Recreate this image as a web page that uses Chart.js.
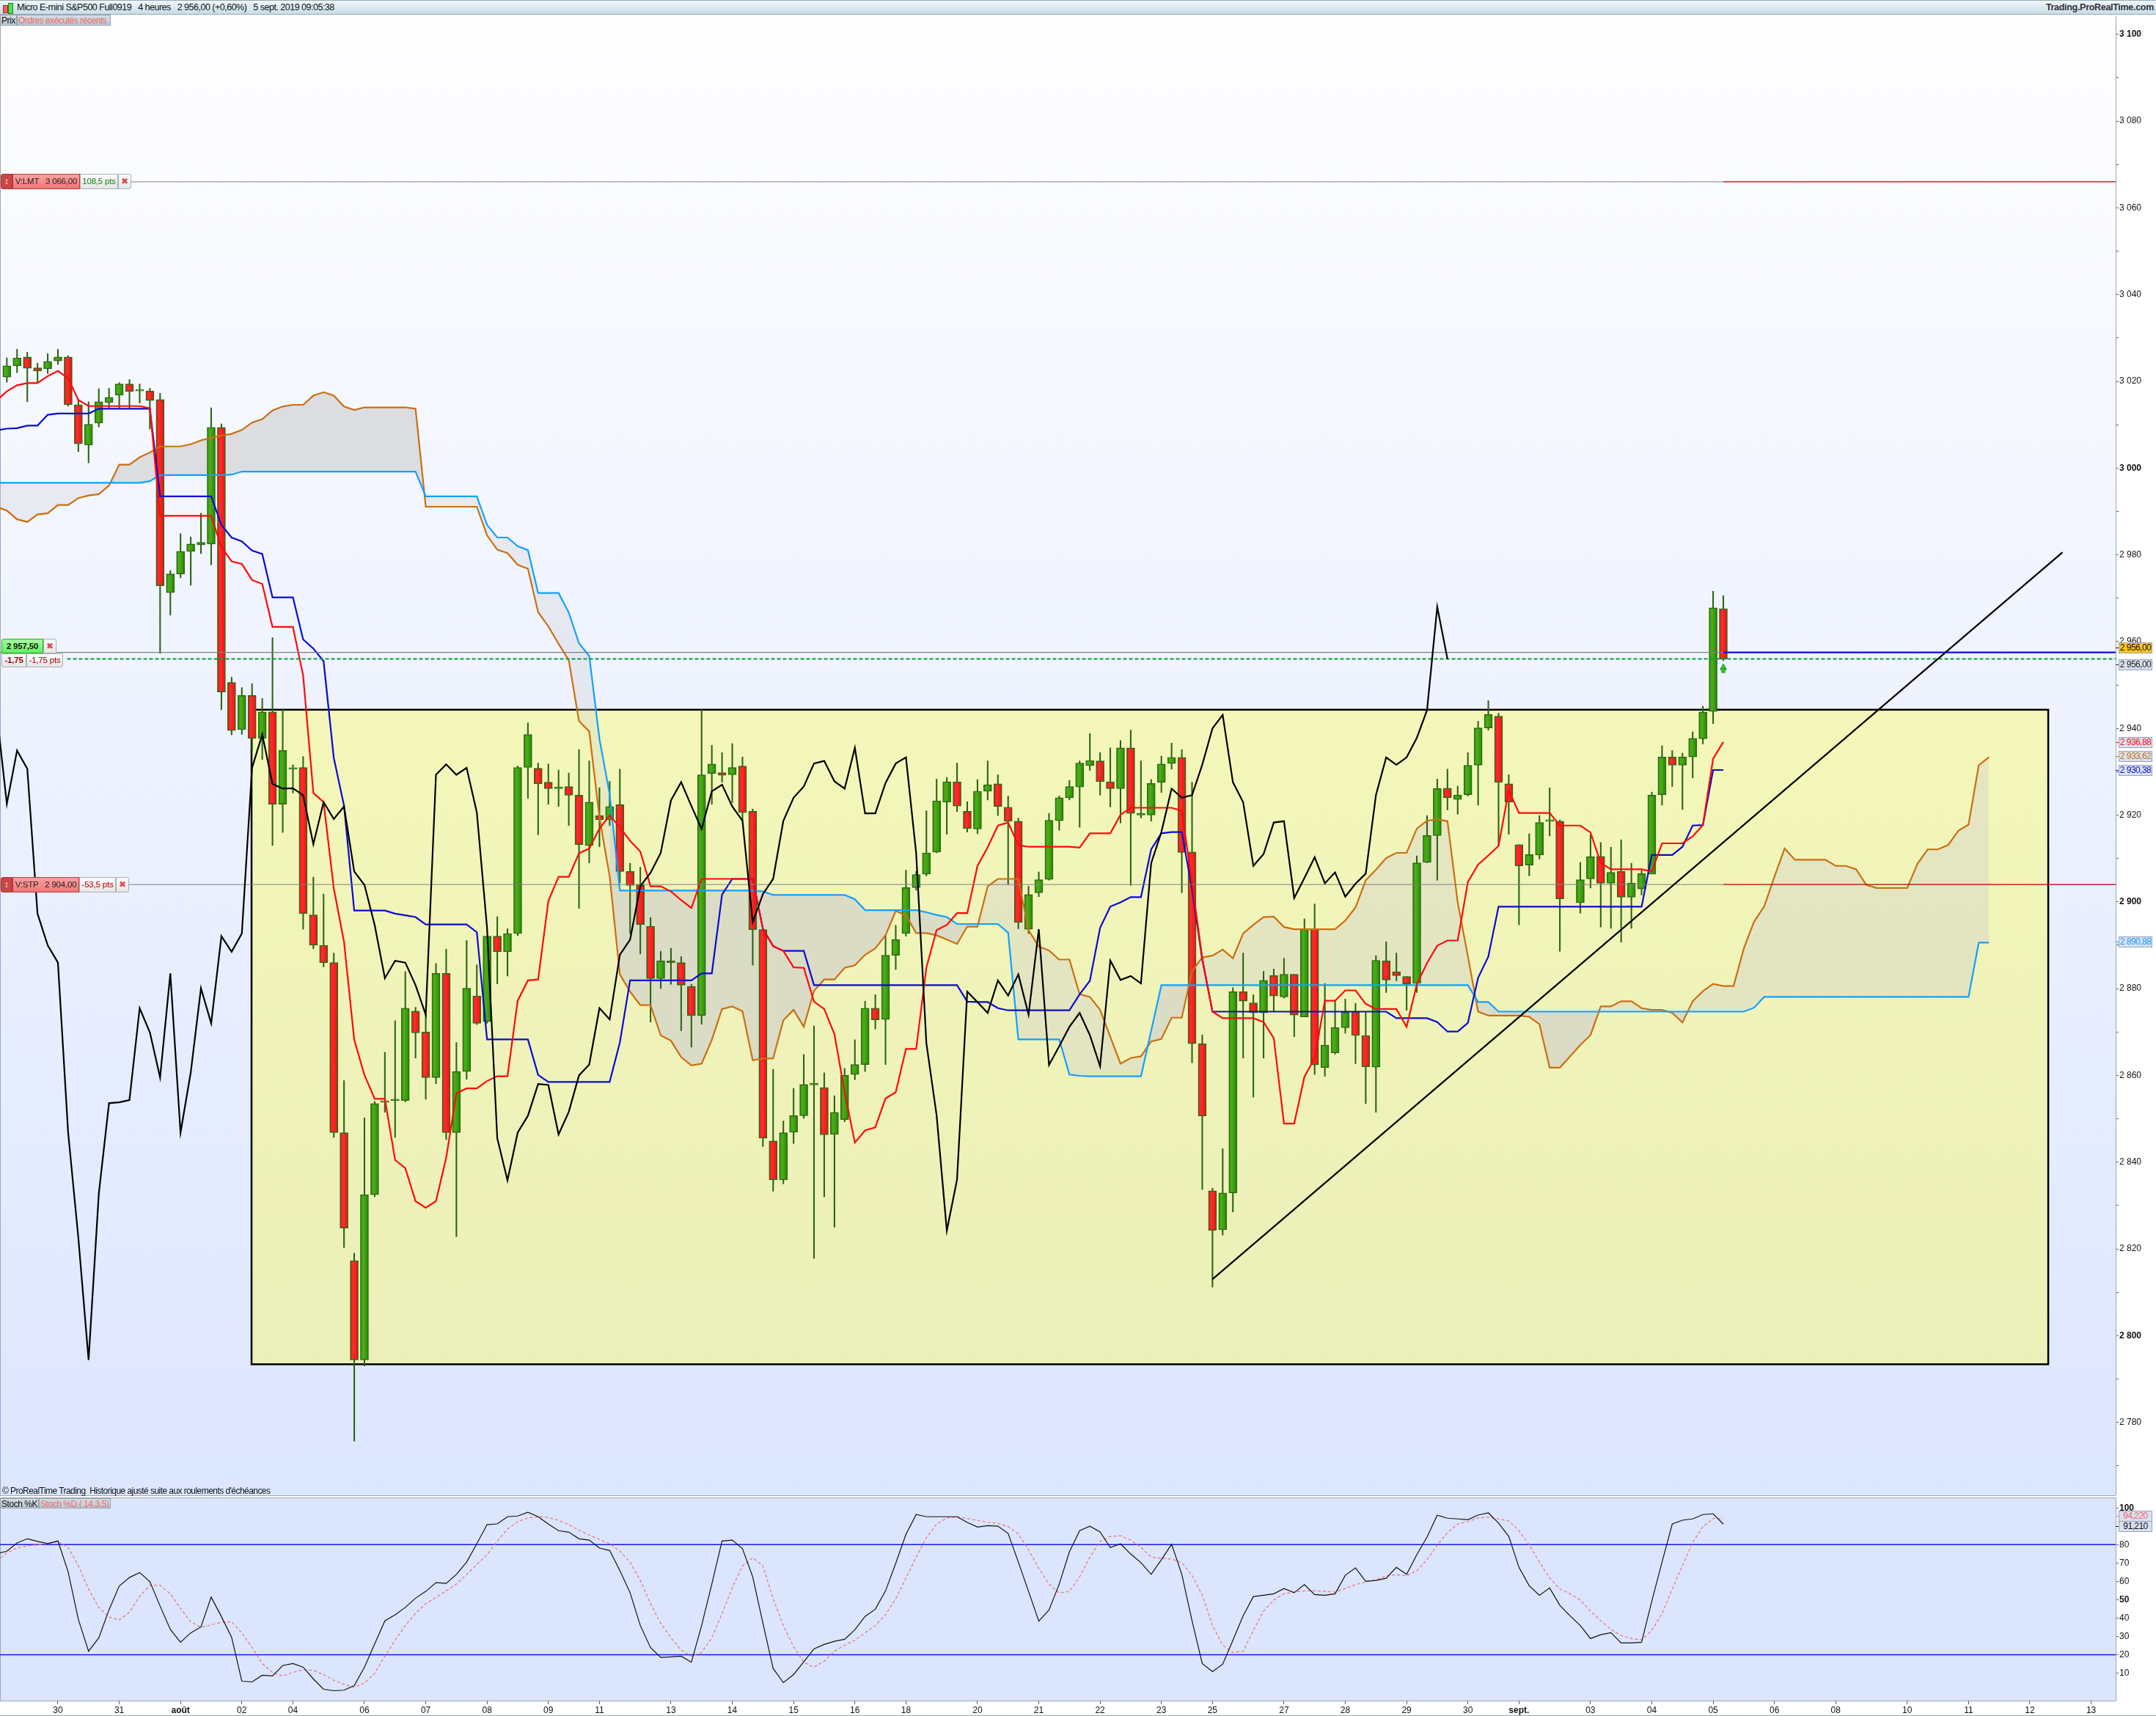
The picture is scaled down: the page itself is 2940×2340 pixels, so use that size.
<!DOCTYPE html>
<html>
<head>
<meta charset="utf-8">
<title>Micro E-mini S&amp;P500</title>
<script src="https://cdn.jsdelivr.net/npm/chart.js@4/dist/chart.umd.min.js"></script>
<style>
html,body{margin:0;padding:0;background:#fff;width:2940px;height:2340px;overflow:hidden;font-family:"Liberation Sans",Arial,sans-serif;color:#111}
div,canvas{position:absolute}
#header{left:0;top:0;width:2940px;height:20px;background:linear-gradient(#eef8fc,#c8dde8);border-top:1px solid #9aa8b4;border-bottom:1px solid #9aa8b4;box-sizing:border-box;font-size:13.5px;line-height:19px;white-space:pre}
#mainBg{left:0;top:20px;width:2885px;height:2019px;background:linear-gradient(#fefeff,#dce6ff);border-left:1px solid #9aa8b4;box-sizing:border-box}
#stochBg{left:0;top:2042px;width:2885px;height:277px;background:#dbe5fe;border-left:1px solid #9aa8b4;border-top:1px solid #9aa8b4;box-sizing:border-box}
.rule{left:0;width:2885px;height:1px;background:#9aa8b4}
.leg{height:14px;line-height:14px;font-size:12px;letter-spacing:-0.45px;background:linear-gradient(#d6dee4,#b9c7d0);border:1px solid #93a3b0;box-sizing:border-box;white-space:pre;padding-left:1px;overflow:hidden}
.tag{box-sizing:border-box;font-size:11.5px;letter-spacing:-0.2px;text-align:center;white-space:pre;border:1px solid #a8b0b8;background:linear-gradient(#fbfbfb,#e6e6e6)}
.val{left:2889px;width:46px;height:15px;line-height:13px;font-size:12px;letter-spacing:-0.55px;box-sizing:border-box;border:1px solid #93a3b8;background:#d9e1f0;text-align:center;white-space:pre}
.mark{left:2885px;width:4px;height:1px}
</style>
</head>
<body>
<div id="mainBg"></div>
<div id="stochBg"></div>
<div class="rule" style="top:2039px"></div>
<div class="rule" style="top:2319px"></div>
<div class="rule" style="top:2339px;width:2940px"></div>
<div class="rule" style="top:2042px"></div>
<canvas id="priceChart" width="2940" height="2017" style="left:0;top:22px"></canvas>
<canvas id="stochChart" width="2940" height="298" style="left:0;top:2042px"></canvas>
<div id="header"></div>
<div id="overlay" style="left:0;top:0;width:2940px;height:2340px"></div>

<script>
// x axis: one step = one 4 hour bar, bar 0 is the first candle on the left
const xMin = -0.67
const xMax = 206.4

const candleOpen = [
  3021.0,3023.6,3025.6,3023.1,3022.9,3024.7,3025.6,3014.6,3005.3,3010.4,
  3015.1,3016.8,3019.4,3017.8,3017.8,3015.8,2971.3,2975.6,2980.8,2982.3,
  2982.5,3009.4,2950.6,2939.7,2947.6,2937.7,2943.8,2922.5,2930.6,2931.0,
  2897.0,2890.0,2886.0,2846.8,2817.3,2794.4,2832.5,2853.8,2854.2,2854.2,
  2874.8,2870.0,2859.5,2883.5,2846.8,2860.9,2878.3,2872.4,2892.1,2888.5,
  2892.7,2931.0,2930.8,2927.6,2926.1,2926.6,2924.6,2913.0,2919.9,2918.9,
  2922.4,2907.0,2904.0,2894.4,2882.3,2886.4,2886.0,2880.5,2873.8,2929.6,
  2929.8,2929.3,2931.3,2920.9,2893.6,2844.9,2835.9,2846.9,2850.7,2857.8,
  2857.2,2846.4,2849.8,2860.2,2862.5,2875.5,2872.9,2887.7,2892.7,2903.3,
  2906.4,2911.5,2923.0,2927.7,2920.9,2916.8,2925.5,2927.2,2921.8,2918.6,
  2893.7,2902.1,2905.2,2918.7,2924.0,2926.5,2931.4,2932.5,2927.7,2926.1,
  2935.5,2920.0,2920.0,2927.6,2931.9,2933.3,2911.5,2867.3,2833.4,2824.4,
  2832.9,2879.3,2876.7,2874.4,2883.0,2878.1,2883.3,2873.5,2893.8,2861.8,
  2865.2,2871.0,2874.6,2869.2,2861.9,2886.4,2883.9,2882.8,2881.2,2909.1,
  2915.3,2926.2,2923.6,2924.7,2931.5,2940.1,2942.8,2927.2,2913.2,2908.5,
  2910.8,2918.6,2918.6,null,2899.8,2905.3,2910.5,2904.3,2907.0,2901.1,
  2903.0,2906.4,2924.7,2933.4,2931.5,2933.4,2937.6,2943.9,2967.6
]
const candleClose = [
  3023.6,3025.4,3023.0,3022.4,3024.6,3025.6,3014.6,3005.6,3010.1,3015.3,
  3016.3,3019.4,3017.7,3017.8,3015.6,2972.9,2975.6,2980.8,2982.5,2982.9,
  3009.4,2948.4,2939.5,2947.6,2937.7,2943.8,2922.5,2934.9,2930.6,2897.3,
  2890.0,2886.0,2846.8,2824.8,2794.4,2832.5,2853.5,2853.8,2854.2,2875.5,
  2869.8,2859.5,2883.5,2846.8,2860.9,2880.1,2872.0,2892.1,2888.5,2892.7,
  2931.0,2938.6,2927.2,2926.1,2926.1,2924.6,2913.2,2923.0,2918.9,2922.0,
  2907.0,2903.8,2894.8,2882.3,2886.4,2886.0,2880.8,2873.8,2929.3,2931.8,
  2929.2,2931.0,2920.6,2893.6,2845.5,2835.9,2846.8,2850.7,2857.9,2857.8,
  2846.3,2851.5,2860.0,2862.5,2875.5,2872.8,2887.7,2891.3,2903.3,2906.3,
  2911.3,2923.3,2927.7,2922.1,2916.9,2925.5,2927.0,2922.0,2918.6,2895.3,
  2901.7,2905.1,2918.8,2924.0,2926.6,2932.0,2932.6,2927.7,2926.1,2935.5,
  2920.4,2920.4,2927.3,2931.8,2933.3,2911.4,2867.3,2850.6,2824.3,2832.9,
  2879.3,2877.1,2874.4,2881.9,2878.3,2883.3,2873.9,2893.8,2862.4,2867.0,
  2871.0,2874.6,2869.2,2862.0,2886.5,2882.0,2883.0,2881.1,2909.0,2915.3,
  2926.1,2924.0,2924.6,2931.5,2940.1,2943.2,2927.6,2923.0,2908.3,2910.9,
  2918.3,2918.6,2900.7,null,2905.1,2910.4,2904.3,2906.8,2901.1,2904.3,
  2906.5,2924.6,2933.4,2931.5,2933.4,2937.7,2943.8,2967.8,2956.0
]
const candleHigh = [
  3025.4,3027.4,3026.7,3024.2,3026.4,3027.4,3025.9,3015.8,3015.3,3018.3,
  3018.4,3019.7,3020.4,3019.4,3018.4,3017.2,2976.4,2984.9,2984.1,2989.6,
  3013.9,3010.2,2951.8,2949.4,2950.3,2946.9,2960.9,2944.5,2931.6,2933.5,
  2905.7,2901.8,2888.2,2858.8,2819.0,2850.2,2854.0,2865.3,2872.6,2883.9,
  2875.7,2874.0,2885.8,2889.1,2867.6,2891.1,2885.5,2892.1,2896.6,2893.8,
  2931.3,2941.3,2932.0,2931.8,2930.4,2929.7,2935.1,2932.5,2926.3,2927.8,
  2930.6,2908.9,2908.0,2896.4,2888.6,2889.3,2887.4,2881.0,2944.2,2936.1,
  2934.4,2936.5,2933.4,2921.4,2893.6,2861.4,2849.5,2857.0,2864.8,2871.4,
  2860.6,2855.3,2861.6,2868.2,2877.1,2878.6,2892.3,2894.6,2907.3,2907.0,
  2921.0,2928.3,2928.7,2932.0,2923.1,2928.2,2932.5,2929.3,2924.4,2919.3,
  2903.6,2906.9,2920.4,2924.4,2928.0,2932.5,2938.8,2934.4,2935.5,2937.2,
  2939.6,2932.5,2928.2,2933.6,2936.6,2935.1,2927.6,2869.3,2834.0,2843.1,
  2880.2,2888.2,2878.6,2884.0,2884.5,2887.0,2883.3,2896.1,2899.5,2881.2,
  2877.2,2877.6,2876.6,2874.6,2887.6,2890.8,2888.2,2882.8,2910.6,2919.9,
  2928.3,2930.6,2926.7,2934.4,2941.6,2946.4,2943.5,2929.3,2913.2,2915.7,
  2919.9,2926.3,2918.9,null,2909.1,2915.4,2913.7,2912.6,2914.3,2908.9,
  2907.3,2925.3,2936.0,2934.9,2934.3,2939.2,2945.1,2971.6,2970.6
]
const candleLow = [
  3019.8,3022.0,3015.3,3019.8,3021.8,3023.9,3014.3,3003.8,3001.2,3009.5,
  3013.7,3013.7,3013.7,3015.0,3009.0,2957.3,2966.1,2974.7,2973.0,2980.3,
  2977.7,2944.3,2938.5,2938.6,2935.0,2932.8,2913.0,2916.0,2925.1,2893.7,
  2889.2,2885.0,2845.7,2820.3,2775.7,2793.0,2832.0,2851.5,2845.7,2853.9,
  2864.0,2854.5,2858.1,2845.2,2822.8,2859.1,2871.7,2872.0,2881.1,2882.9,
  2892.2,2923.9,2915.5,2922.5,2922.0,2917.6,2898.5,2909.0,2912.7,2917.6,
  2904.4,2892.7,2888.0,2872.3,2880.0,2881.0,2870.3,2866.5,2871.8,2922.5,
  2927.6,2922.9,2918.7,2885.4,2843.6,2833.3,2835.0,2844.3,2850.1,2817.8,
  2832.0,2825.0,2849.3,2859.0,2860.9,2870.7,2862.5,2884.4,2892.1,2902.7,
  2906.0,2911.3,2915.6,2920.8,2916.1,2915.7,2923.5,2919.9,2904.0,2893.8,
  2892.7,2901.2,2905.0,2916.5,2923.5,2917.2,2930.3,2924.6,2921.9,2918.2,
  2903.8,2919.3,2918.6,2925.2,2930.6,2902.1,2862.9,2833.7,2811.2,2823.2,
  2828.5,2864.0,2855.0,2864.0,2874.8,2877.8,2868.9,2873.5,2860.2,2859.8,
  2864.9,2869.7,2862.7,2853.5,2851.5,2879.1,2881.8,2875.0,2879.1,2909.0,
  2905.0,2921.2,2920.2,2924.4,2922.3,2939.6,2912.9,2915.6,2894.7,2906.0,
  2909.9,2915.2,2888.6,null,2897.4,2903.2,2894.2,2893.9,2890.7,2893.9,
  2901.6,2906.4,2922.3,2926.6,2921.3,2928.6,2936.4,2941.1,2955.6
]

// ichimoku lines, the first value of each list is one bar left of bar 0
const tenkan = [
  3015.6,
  3017.7,3019.1,3019.6,3019.6,3021.2,3022.4,3020.7,3015.7,3014.3,3014.3,
  3014.3,3014.3,3014.3,3014.3,3013.8,2989.0,2989.0,2989.0,2989.0,2989.0,
  2989.0,2981.8,2978.5,2977.9,2974.2,2973.3,2963.4,2963.4,2963.4,2952.2,
  2925.1,2923.0,2903.1,2890.8,2868.2,2860.1,2854.6,2854.6,2840.5,2838.6,
  2831.0,2829.5,2831.0,2841.0,2855.9,2857.0,2857.0,2858.7,2859.8,2859.8,
  2877.2,2881.9,2882.1,2900.2,2905.8,2905.8,2911.2,2912.3,2916.9,2919.9,
  2917.2,2914.1,2911.6,2903.6,2903.6,2902.4,2900.4,2898.6,2905.3,2905.3,
  2905.3,2905.3,2905.3,2905.3,2893.8,2889.8,2888.7,2884.9,2884.8,2877.0,
  2875.3,2869.5,2856.1,2844.5,2847.3,2848.0,2854.7,2856.1,2866.1,2866.1,
  2884.9,2893.5,2894.7,2897.4,2897.4,2908.3,2912.6,2917.6,2918.3,2913.1,
  2912.7,2912.7,2912.7,2912.7,2912.7,2912.5,2915.8,2915.8,2915.8,2920.1,
  2921.7,2921.7,2921.7,2921.7,2921.7,2921.0,2904.4,2887.0,2874.7,2873.2,
  2873.2,2873.2,2873.2,2872.3,2868.6,2848.9,2848.9,2859.7,2864.0,2877.2,
  2877.2,2879.6,2879.6,2876.5,2875.3,2875.3,2875.3,2871.2,2881.0,2885.9,
  2889.9,2891.1,2891.1,2904.6,2908.6,2910.7,2912.9,2925.7,2920.5,2920.5,
  2920.5,2920.5,2917.6,2917.6,2917.6,2916.0,2909.0,2907.5,2907.5,2907.5,
  2907.5,2907.0,2913.5,2913.5,2913.5,2915.1,2917.7,2933.0,2936.9
]
const kijun = [
  3008.7,
  3009.1,3009.2,3009.8,3009.8,3012.3,3012.6,3012.6,3012.6,3012.6,3013.7,
  3013.7,3013.7,3013.7,3013.7,3013.7,2993.5,2993.5,2993.5,2993.5,2993.5,
  2993.5,2986.9,2984.0,2983.1,2981.0,2980.2,2970.2,2970.2,2970.2,2960.5,
  2958.4,2955.5,2933.2,2922.2,2898.0,2898.0,2898.0,2898.0,2897.3,2896.9,
  2896.5,2894.8,2894.8,2894.8,2894.8,2894.8,2893.0,2868.3,2868.3,2868.3,
  2868.3,2868.3,2860.1,2858.5,2858.5,2858.5,2858.5,2858.5,2858.5,2858.5,
  2867.6,2881.9,2881.9,2881.9,2881.9,2881.9,2881.9,2881.9,2883.5,2883.5,
  2901.7,2905.3,2905.3,2905.3,2893.8,2889.8,2888.7,2888.7,2888.7,2880.8,
  2880.8,2880.8,2880.8,2880.8,2880.8,2880.8,2880.8,2880.8,2880.8,2880.8,
  2880.8,2880.8,2880.8,2880.8,2877.0,2876.9,2876.9,2875.5,2875.0,2875.0,
  2875.0,2875.0,2875.0,2875.0,2875.0,2878.7,2881.8,2894.0,2898.9,2899.9,
  2901.1,2901.1,2912.1,2915.8,2916.1,2916.1,2902.9,2886.7,2874.7,2874.7,
  2874.7,2874.7,2874.7,2874.7,2874.7,2874.7,2874.7,2874.7,2874.7,2874.7,
  2874.7,2874.7,2874.7,2874.7,2874.7,2874.7,2873.2,2873.2,2873.2,2873.2,
  2872.3,2870.1,2870.1,2872.1,2882.5,2887.4,2898.9,2898.9,2898.9,2898.9,
  2898.9,2898.9,2898.9,2898.9,2898.9,2898.9,2898.9,2898.9,2898.9,2898.9,
  2898.9,2910.8,2910.8,2910.8,2912.7,2917.6,2917.7,2930.4,2930.4
]
const senkouA = [
  2991.1,
  2990.2,2988.2,2987.6,2989.3,2989.6,2991.5,2991.5,2993.1,2993.7,2994.0,
  2996.0,3000.8,3000.8,3002.5,3003.6,3005.0,3005.0,3005.0,3005.5,3006.4,
  3007.0,3007.5,3007.9,3008.8,3010.5,3011.3,3013.3,3014.2,3014.6,3014.6,
  3016.7,3017.5,3016.7,3014.2,3013.4,3014.0,3014.0,3014.0,3014.0,3014.0,
  3013.7,2991.1,2991.1,2991.1,2991.1,2991.1,2991.1,2984.5,2981.2,2980.4,
  2977.7,2976.8,2966.8,2963.5,2959.5,2955.7,2941.7,2939.3,2919.5,2905.9,
  2883.3,2879.3,2876.2,2876.2,2869.2,2868.0,2864.2,2862.3,2862.7,2868.2,
  2875.3,2875.9,2874.8,2863.5,2863.9,2863.9,2872.7,2875.1,2871.2,2879.5,
  2882.1,2882.1,2884.8,2885.4,2887.8,2889.3,2892.3,2897.9,2896.9,2892.8,
  2892.8,2892.3,2891.3,2890.3,2894.3,2894.3,2903.6,2905.3,2905.3,2905.3,
  2893.5,2889.7,2888.8,2886.7,2886.7,2878.7,2878.1,2875.1,2868.9,2862.7,
  2864.0,2864.4,2867.8,2868.4,2873.3,2873.3,2884.0,2887.2,2887.6,2889.0,
  2887.0,2892.7,2894.7,2896.5,2896.6,2894.2,2893.7,2893.7,2893.7,2893.7,
  2893.7,2895.7,2898.7,2905.0,2907.4,2910.1,2911.3,2911.3,2916.9,2918.7,
  2919.0,2918.6,2899.9,2887.4,2874.7,2873.8,2873.8,2873.8,2873.8,2873.5,
  2871.8,2861.8,2861.8,2864.4,2867.0,2869.3,2875.9,2875.9,2877.1,2877.1,
  2875.5,2875.1,2875.1,2874.4,2872.2,2877.1,2879.4,2881.1,2880.6,2880.6,
  2889.2,2895.4,2899.0,2905.8,2912.3,2909.7,2909.7,2909.7,2909.7,2908.3,
  2908.3,2907.5,2903.9,2903.2,2903.2,2903.2,2903.2,2908.8,2912.1,2912.1,
  2913.1,2916.4,2917.8,2931.5,2933.4
]
const senkouB = [
  2996.6,
  2996.6,2996.6,2996.6,2996.6,2996.6,2996.6,2996.6,2996.6,2996.6,2996.6,
  2996.6,2996.6,2996.6,2996.6,2997.0,2998.4,2998.4,2998.4,2998.4,2998.4,
  2998.4,2998.4,2998.5,2999.2,2999.2,2999.2,2999.2,2999.2,2999.2,2999.2,
  2999.2,2999.2,2999.2,2999.2,2999.2,2999.2,2999.2,2999.2,2999.2,2999.2,
  2999.2,2993.5,2993.5,2993.5,2993.5,2993.5,2993.5,2986.9,2984.0,2984.0,
  2982.0,2981.1,2971.2,2971.2,2971.2,2966.7,2959.6,2956.7,2937.6,2924.8,
  2902.6,2902.6,2902.6,2902.6,2902.6,2902.6,2902.6,2902.6,2902.6,2902.6,
  2902.6,2902.6,2902.6,2902.6,2902.4,2901.6,2901.6,2901.6,2901.6,2901.6,
  2901.6,2901.6,2901.6,2900.6,2898.1,2898.1,2898.1,2898.1,2898.1,2898.1,
  2897.6,2897.0,2896.5,2894.9,2894.9,2894.9,2894.9,2894.9,2892.9,2868.3,
  2868.3,2868.3,2868.3,2868.3,2860.2,2859.9,2859.8,2859.8,2859.8,2859.8,
  2859.8,2859.8,2870.3,2880.8,2880.8,2880.8,2880.8,2880.8,2880.8,2880.8,
  2880.8,2880.8,2880.8,2880.8,2880.8,2880.8,2880.8,2880.8,2880.8,2880.8,
  2880.8,2880.8,2880.8,2880.8,2880.8,2880.8,2880.8,2880.8,2880.8,2880.8,
  2880.8,2880.8,2880.8,2880.8,2876.9,2876.9,2874.7,2874.7,2874.7,2874.7,
  2874.7,2874.7,2874.7,2874.7,2874.7,2874.7,2874.7,2874.7,2874.7,2874.7,
  2874.7,2874.7,2874.7,2874.7,2874.7,2874.7,2874.7,2874.7,2874.7,2874.7,
  2874.7,2875.6,2878.1,2878.1,2878.1,2878.1,2878.1,2878.1,2878.1,2878.1,
  2878.1,2878.1,2878.1,2878.1,2878.1,2878.1,2878.1,2878.1,2878.1,2878.1,
  2878.1,2878.1,2878.1,2890.6,2890.6
]
const chikou = [
  2943.8,
  2922.6,2934.9,2930.7,2897.3,2890.0,2886.0,2846.8,2822.5,2794.4,2832.7,
  2853.6,2853.8,2854.3,2875.5,2869.9,2859.5,2883.5,2846.8,2860.7,2880.1,
  2872.0,2892.1,2888.5,2892.7,2930.9,2938.6,2927.2,2926.1,2926.2,2924.6,
  2913.3,2923.0,2919.1,2922.0,2907.0,2903.9,2894.7,2882.4,2886.4,2886.0,
  2880.8,2874.0,2929.3,2931.7,2929.3,2930.9,2920.6,2894.0,2845.5,2835.8,
  2846.8,2850.7,2858.0,2857.8,2846.4,2851.6,2860.0,2862.5,2875.5,2872.9,
  2887.8,2891.3,2903.6,2906.7,2911.3,2923.4,2927.6,2922.1,2916.8,2925.5,
  2927.0,2922.0,2918.7,2895.3,2901.8,2905.3,2918.7,2924.0,2926.6,2931.9,
  2932.5,2927.8,2926.1,2935.5,2920.4,2920.4,2927.4,2931.9,2933.3,2911.2,
  2867.4,2850.8,2824.2,2836.0,2879.3,2876.9,2874.4,2881.9,2878.4,2883.3,
  2874.0,2893.7,2862.4,2866.7,2871.2,2874.4,2869.3,2862.1,2886.5,2882.0,
  2882.9,2881.2,2908.9,2916.1,2926.1,2924.0,2924.6,2931.6,2940.0,2943.1,
  2927.6,2923.0,2908.3,2911.0,2918.3,2918.6,2900.9,2905.5,2910.3,2904.3,
  2906.8,2901.2,2904.2,2906.5,2924.6,2933.3,2931.6,2933.3,2937.8,2944.2,
  2968.0,2956.0
]

const stochK = [
  75.0,
  76.4,80.9,83.2,81.8,80.6,82.0,65.2,39.2,21.9,29.2,
  44.5,57.4,62.1,64.8,59.8,46.5,33.8,26.8,31.9,35.2,
  51.4,40.8,29.5,5.6,5.2,8.8,8.4,14.1,15.2,13.2,
  6.8,1.2,0.4,0.7,3.2,13.2,25.9,38.5,41.8,45.8,
  50.8,54.5,59.3,58.9,63.8,70.5,80.5,90.9,91.3,95.2,
  95.6,97.6,95.2,91.2,87.6,86.8,83.2,82.5,78.1,76.8,
  65.8,53.8,35.9,23.9,18.5,18.8,19.2,15.9,35.9,58.5,
  82.0,82.5,77.8,62.5,37.2,12.5,4.8,9.2,16.1,23.2,
  25.6,27.3,28.4,33.6,40.9,44.8,54.8,69.8,85.6,96.4,
  95.2,95.2,95.2,95.2,92.1,89.6,90.4,90.1,86.1,70.5,
  54.5,38.3,44.4,58.5,76.1,87.6,90.0,86.9,78.4,80.4,
  74.9,70.2,63.8,71.8,80.2,63.8,38.5,15.2,10.8,14.8,
  27.9,41.2,51.7,52.4,53.2,56.1,53.8,58.2,52.8,52.4,
  53.2,63.3,67.3,60.0,60.5,61.7,67.6,63.8,74.5,84.1,
  96.0,94.4,94.0,93.6,96.1,97.3,91.8,84.5,67.6,57.6,
  52.4,56.4,46.9,41.2,35.9,28.8,30.9,32.0,26.4,26.4,
  26.8,49.2,70.5,91.2,93.3,94.0,96.4,96.8,91.21
]
const stochD = [
  71.0,
  75.6,78.1,79.4,79.8,80.5,81.6,78.5,68.5,55.8,45.8,
  40.5,38.9,43.2,51.8,57.8,57.8,53.2,45.2,37.9,35.0,
  36.2,37.7,37.9,31.9,23.9,15.2,10.3,8.4,10.3,11.9,
  11.5,9.2,6.1,3.9,2.3,4.5,9.9,19.2,27.9,35.9,
  42.5,47.8,51.2,54.8,58.5,63.8,69.2,74.5,81.8,88.5,
  92.5,94.5,95.2,94.8,93.2,90.9,87.8,85.2,82.8,80.5,
  76.5,70.5,60.5,47.8,37.2,29.2,22.5,19.2,21.2,29.2,
  42.5,56.5,68.5,72.8,68.5,50.5,35.9,24.5,15.9,13.2,
  16.5,21.9,25.2,27.9,31.9,35.9,41.8,50.5,61.8,73.2,
  83.8,91.2,94.5,95.2,94.2,93.2,92.2,91.6,89.8,85.8,
  77.2,67.2,58.5,53.6,54.5,62.5,73.2,81.8,84.5,84.8,
  82.5,78.5,73.2,72.5,72.2,70.2,63.2,52.5,35.9,25.2,
  21.2,21.9,33.2,43.8,49.8,53.2,54.1,54.8,54.8,54.5,
  54.1,56.1,58.2,59.6,60.9,62.9,63.6,63.0,65.8,71.8,
  79.8,86.5,91.2,92.5,94.5,95.0,94.0,92.9,87.6,79.8,
  70.5,61.8,55.8,53.2,49.8,43.8,38.5,33.8,30.5,28.8,
  28.1,33.2,42.5,55.8,68.5,81.2,89.8,94.2,94.22
]

// axis ticks
const priceTicks = [2770,2780,2790,2800,2810,2820,2830,2840,2850,2860,2870,2880,2890,2900,2910,2920,2930,2940,2950,2960,2970,2980,2990,3000,3010,3020,3030,3040,3050,3060,3070,3080,3090,3100]
const stochTicks = [10,20,30,40,50,60,70,80,90,100]
const dateTickBars = [5,11,17,23,28,35,41,47,53,58,65,71,77,83,88,95,101,107,113,118,125,131,137,143,148,155,161,167,173,179,186,192,198,204]
const dateTickLabels = ['30','31','août','02','04','06','07','08','09','11','13','14','15','16','18','20','21','22','23','25','27','28','29','30','sept.','03','04','05','06','08','10','11','12','13']

// order levels and drawn objects
const lastBar = 168
const limitLevel = 3066
const stopLevel = 2904
const entryLevel = 2957.5
const lastPrice = 2956
const trendBars = [118, 201.2]
const trendPrices = [2813, 2980.6]
const boxBars = [23.95, 199.8]
const boxPrices = [2793.4, 2944.3]
const arrowBar = 168
const arrowHeadPrice = 2954.0
const arrowStemPrices = [2952.8, 2953.8]
const stochLevels = [80, 20]

function spacedPrice(v) {
  return String(v).replace(/\B(?=\d{3}$)/, ' ')
}

function toLine(values) {
  return values.map((v, k) => ({x: k - 1, y: v}))
}

function greenOrRed(i) {
  return candleClose[i] >= candleOpen[i]
}

function getWicks() {
  const out = []
  candleOpen.forEach((o, i) => {
    if (o !== null) out.push({x: i, y: [candleLow[i], candleHigh[i]]})
  })
  return out
}

function getBodies() {
  const out = []
  candleOpen.forEach((o, i) => {
    if (o !== null) out.push({x: i, y: [o, candleClose[i]]})
  })
  return out
}

// candle bodies have a soft left to right shade
function bodyFill(ctx) {
  const chart = ctx.chart
  if (!chart.chartArea || !ctx.parsed) return '#ff2020'
  const up = greenOrRed(ctx.parsed.x)
  const px = chart.scales.x.getPixelForValue(ctx.parsed.x)
  const g = chart.ctx.createLinearGradient(px - 5, 0, px + 5, 0)
  g.addColorStop(0, up ? '#3a9a10' : '#f01818')
  g.addColorStop(0.35, up ? '#4cae18' : '#ff2c2c')
  g.addColorStop(1, up ? '#2b8a08' : '#ee1212')
  return g
}

function level(bars, value, color, width, dash) {
  return {
    type: 'line',
    data: [{x: bars[0], y: value}, {x: bars[1], y: value}],
    borderColor: color,
    borderWidth: width,
    borderDash: dash || [],
    pointRadius: 0,
    order: 2
  }
}

function indicator(values, color, width, order) {
  return {
    type: 'line',
    data: toLine(values),
    borderColor: color,
    borderWidth: width,
    pointRadius: 0,
    tension: 0,
    order: order
  }
}

// yellow rectangle, placed with the chart scales
const boxPlugin = {
  id: 'boxPlugin',
  beforeDatasetsDraw(chart) {
    const {ctx, scales} = chart
    const x1 = scales.x.getPixelForValue(boxBars[0])
    const x2 = scales.x.getPixelForValue(boxBars[1])
    const y1 = scales.y.getPixelForValue(boxPrices[1])
    const y2 = scales.y.getPixelForValue(boxPrices[0])
    const g = ctx.createLinearGradient(0, y1, 0, y2)
    g.addColorStop(0, '#f4f7b9')
    g.addColorStop(1, '#ebefb9')
    ctx.save()
    ctx.fillStyle = g
    ctx.fillRect(x1, y1, x2 - x1, y2 - y1)
    ctx.strokeStyle = '#000'
    ctx.lineWidth = 2.5
    ctx.strokeRect(x1, y1, x2 - x1, y2 - y1)
    ctx.restore()
  }
}

function drawPriceChart() {
  const datasets = [
    // index 0 and 1 are the cloud edges that the fills below refer to
    indicator(senkouB, '#12a0ff', 2.2, 5),
    indicator(senkouA, '#cc6e12', 2.2, 5),
    {
      type: 'line',
      data: toLine(senkouA).slice(0, 61),
      borderWidth: 0,
      pointRadius: 0,
      fill: {target: 0, above: 'rgba(205,205,205,0.62)', below: 'rgba(205,205,205,0.3)'},
      order: 12
    },
    {
      type: 'line',
      data: toLine(senkouA).slice(60),
      borderWidth: 0,
      pointRadius: 0,
      fill: {target: 0, above: 'rgba(205,205,205,0.39)', below: 'rgba(205,205,205,0.62)'},
      order: 12
    },
    {
      type: 'bar',
      data: getWicks(),
      backgroundColor: '#2a6410',
      barThickness: 1.4,
      grouped: false,
      order: 9
    },
    {
      type: 'bar',
      data: getBodies(),
      backgroundColor: bodyFill,
      borderColor: '#2a6a10',
      borderWidth: 1.5,
      borderSkipped: false,
      barThickness: 11,
      minBarLength: 2,
      grouped: false,
      order: 8
    },
    indicator(kijun, '#0a0ad2', 2.2, 4),
    indicator(tenkan, '#ff0a0a', 2.2, 3),
    indicator(chikou, '#000000', 2.2, 1),
    level([xMin, lastBar], limitLevel, '#808080', 1),
    level([lastBar, xMax], limitLevel, '#b00000', 1.2),
    level([xMin, lastBar], stopLevel, '#808080', 1),
    level([lastBar, xMax], stopLevel, '#b00000', 1.2),
    level([xMin, lastBar], entryLevel, '#808080', 1.2),
    level([lastBar, xMax], entryLevel, '#0a0aff', 2.2),
    level([5.9, xMax], lastPrice, '#00a040', 2, [5, 3]),
    {
      type: 'line',
      data: trendBars.map((b, k) => ({x: b, y: trendPrices[k]})),
      borderColor: '#000',
      borderWidth: 2.2,
      pointRadius: 0,
      order: 1
    },
    {
      type: 'bar',
      data: [{x: arrowBar, y: arrowStemPrices}],
      backgroundColor: '#2ad02a',
      borderColor: '#108a10',
      borderWidth: 1,
      borderSkipped: false,
      barThickness: 5,
      grouped: false,
      order: 0
    },
    {
      type: 'scatter',
      data: [{x: arrowBar, y: arrowHeadPrice}],
      pointStyle: 'triangle',
      pointRadius: 5,
      backgroundColor: '#2ad02a',
      borderColor: '#108a10',
      borderWidth: 1,
      order: 0
    }
  ]
  return new Chart(document.getElementById('priceChart'), {
    type: 'bar',
    data: {datasets},
    plugins: [boxPlugin],
    options: {
      responsive: false,
      devicePixelRatio: 1,
      animation: false,
      events: [],
      layout: {padding: 0, autoPadding: false},
      plugins: {legend: {display: false}, tooltip: {enabled: false}},
      scales: {
        x: {type: 'linear', display: false, min: xMin, max: xMax, offset: false},
        y: {
          position: 'right',
          min: 2763.2,
          max: 3104.2,
          afterBuildTicks: s => { s.ticks = priceTicks.map(v => ({value: v})) },
          afterFit: s => { s.width = 55; s.paddingTop = 0; s.paddingBottom = 0 },
          border: {color: '#9aa8b4'},
          grid: {drawOnChartArea: false, tickLength: 4, color: '#5a6470'},
          ticks: {
            padding: 1,
            color: '#111',
            autoSkip: false,
            callback: v => (v % 20 === 0 ? spacedPrice(v) : ''),
            font: c => ({
              family: 'Liberation Sans',
              size: 12,
              weight: c.tick && c.tick.value % 100 === 0 ? 'bold' : 'normal'
            })
          }
        }
      }
    }
  })
}

function drawStochChart() {
  const datasets = [
    level([xMin, xMax], stochLevels[0], '#1a1ae6', 1.5),
    level([xMin, xMax], stochLevels[1], '#1a1ae6', 1.5),
    {
      type: 'line',
      data: toLine(stochD),
      borderColor: '#f07070',
      borderWidth: 1.2,
      borderDash: [4, 3],
      pointRadius: 0,
      order: 1
    },
    {
      type: 'line',
      data: toLine(stochK),
      borderColor: '#111',
      borderWidth: 1.2,
      pointRadius: 0,
      order: 0
    }
  ]
  return new Chart(document.getElementById('stochChart'), {
    type: 'line',
    data: {datasets},
    options: {
      responsive: false,
      devicePixelRatio: 1,
      animation: false,
      events: [],
      layout: {padding: 0, autoPadding: false},
      plugins: {legend: {display: false}, tooltip: {enabled: false}},
      scales: {
        x: {
          type: 'linear',
          min: xMin,
          max: xMax,
          afterBuildTicks: s => { s.ticks = dateTickBars.map(v => ({value: v})) },
          afterFit: s => { s.height = 21; s.paddingLeft = 0; s.paddingRight = 0 },
          border: {display: false},
          grid: {drawOnChartArea: false, tickLength: 5, color: '#5a6470'},
          ticks: {
            padding: 1,
            color: '#111',
            autoSkip: false,
            maxRotation: 0,
            callback: v => dateTickLabels[dateTickBars.indexOf(v)],
            font: c => ({
              family: 'Liberation Sans',
              size: 12,
              weight: c.tick && (c.tick.value === 17 || c.tick.value === 148) ? 'bold' : 'normal'
            })
          }
        },
        y: {
          position: 'right',
          min: -5,
          max: 105.7,
          afterBuildTicks: s => { s.ticks = stochTicks.map(v => ({value: v})) },
          afterFit: s => { s.width = 55; s.paddingTop = 0; s.paddingBottom = 0 },
          border: {color: '#9aa8b4'},
          grid: {drawOnChartArea: false, tickLength: 4, color: '#5a6470'},
          ticks: {
            padding: 1,
            color: '#111',
            autoSkip: false,
            font: c => ({
              family: 'Liberation Sans',
              size: 12,
              weight: c.tick && c.tick.value % 50 === 0 ? 'bold' : 'normal'
            })
          }
        }
      }
    }
  })
}

// --- texts around the plot ---
const overlay = document.getElementById('overlay')

function addBox(cls, css, text, color) {
  const d = document.createElement('div')
  d.className = cls
  d.style.cssText = css + (color ? ';color:' + color : '')
  d.textContent = text || ''
  overlay.appendChild(d)
  return d
}

function orderTag(top, h, label, ptsText, ptsColor, w2, w3) {
  addBox('tag', `left:1px;top:${top}px;width:16px;height:${h}px;line-height:${h - 2}px;background:#c84848;border-color:#b03030;border-radius:3px 0 0 3px;font-weight:bold`, '↕', '#fff')
  addBox('tag', `left:17px;top:${top}px;width:${w2}px;height:${h}px;line-height:${h - 2}px;background:linear-gradient(#fba0a0,#f07878);border-color:#c03838`, label, '#222')
  addBox('tag', `left:${17 + w2}px;top:${top}px;width:${w3}px;height:${h}px;line-height:${h - 2}px`, ptsText, ptsColor)
  addBox('tag', `left:${17 + w2 + w3}px;top:${top}px;width:18px;height:${h}px;line-height:${h - 2}px;border-radius:0 3px 3px 0`, '✖', '#d84848')
}

function valueTag(top, text, color, bg) {
  addBox('val', `top:${top}px` + (bg ? ';background:' + bg : ''), text, color)
  addBox('mark', `top:${top + 7}px;background:${color}`)
}

function drawTexts(priceChart) {
  const py = v => Math.round(priceChart.scales.y.getPixelForValue(v) + 22)

  const header = document.getElementById('header')
  const title = document.createElement('div')
  title.style.cssText = 'left:23px;top:0;font-size:12.5px;letter-spacing:-0.5px;line-height:19px'
  title.textContent = 'Micro E-mini S&P500 Full0919   4 heures   2 956,00 (+0,60%)   5 sept. 2019 09:05:38'
  header.appendChild(title)
  const site = document.createElement('div')
  site.style.cssText = 'right:3px;top:0;font-size:12.5px;letter-spacing:-0.3px;line-height:19px;font-weight:bold;color:#333'
  site.textContent = 'Trading.ProRealTime.com'
  header.appendChild(site)

  // small candle icon of the title bar
  addBox('', 'left:4px;top:7px;width:5px;height:9px;background:#f06060;border:1px solid #903030')
  addBox('', 'left:11px;top:4px;width:5px;height:13px;background:#50e050;border:1px solid #208020')

  addBox('leg', 'left:0;top:20px;width:23px;height:15px', 'Prix', '#111')
  addBox('leg', 'left:23px;top:20px;width:128px;height:15px', 'Ordres exécutés récents', '#f06a6a')
  addBox('leg', 'left:0;top:2043px;width:53px', 'Stoch %K', '#111')
  addBox('leg', 'left:53px;top:2043px;width:98px', 'Stoch %D ( 14,3,5)', '#f06a6a')
  addBox('', 'left:3px;top:2026px;font-size:12px;letter-spacing:-0.55px;line-height:14px;white-space:pre', '© ProRealTime Trading  Historique ajusté suite aux roulements d\'échéances', '#111')

  orderTag(237, 21, 'V:LMT   3 066,00', '108,5 pts', '#108010', 92, 52)
  orderTag(1196, 21, 'V:STP   2 904,00', '-53,5 pts', '#b00000', 91, 50)

  addBox('tag', 'left:2px;top:871px;width:57px;height:20px;line-height:18px;background:linear-gradient(#a8ffa0,#60f060);border-color:#20b020;font-weight:bold;border-radius:3px 0 0 0', '2 957,50', '#111')
  addBox('tag', 'left:59px;top:871px;width:18px;height:20px;line-height:18px;border-radius:0 3px 0 0', '✖', '#d84848')
  addBox('tag', 'left:2px;top:891px;width:34px;height:19px;line-height:17px;font-weight:bold;border-radius:0 0 0 3px', '-1,75', '#a00000')
  addBox('tag', 'left:36px;top:891px;width:50px;height:19px;line-height:17px;border-radius:0 0 3px 0', '-1,75 pts', '#a00000')

  valueTag(876, '2 956,00', '#111', '#ffc81e')
  valueTag(899, '2 956,00', '#222')
  valueTag(py(2936.88) - 7, '2 936,88', '#ff1010')
  valueTag(py(2933.62) - 7, '2 933,62', '#cc6e12')
  valueTag(py(2930.38) - 7, '2 930,38', '#1010d0')
  valueTag(py(2890.88) - 7, '2 890,88', '#12a0ff')
  valueTag(2060, '94,220', '#f06a6a')
  valueTag(2074, '91,210', '#111')
}

const priceChart = drawPriceChart()
drawStochChart()
drawTexts(priceChart)
</script>
</body>
</html>
